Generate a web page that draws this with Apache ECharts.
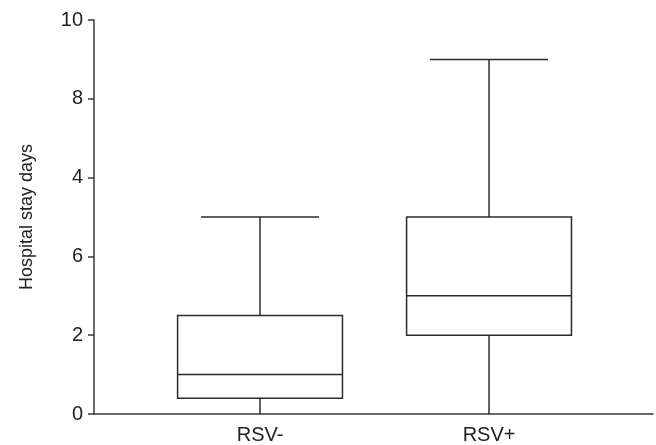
<!DOCTYPE html>
<html>
<head>
<meta charset="utf-8">
<script src="https://cdn.jsdelivr.net/npm/echarts@6/dist/echarts.min.js"></script>
<style>html,body{margin:0;padding:0;background:#fff;}#c{width:656px;height:445px;}</style>
</head>
<body>
<div id="c"></div>
<script>
// ---- data ----
const categories = ['RSV-', 'RSV+'];
const minVals    = [0, 0];
const q1Vals     = [0.4, 2];
const medianVals = [1, 3];
const q3Vals     = [2.5, 5];
const maxVals    = [5, 9];
const yTickLabels = ['0', '2', '6', '4', '8', '10'];
const yAxisTitle = 'Hospital stay days';

const seriesData = categories.map((c, i) => [i, minVals[i], q1Vals[i], medianVals[i], q3Vals[i], maxVals[i]]);

const stroke = '#2a2a2a';
const lw = 1.5;

function renderItem(params, api) {
  const x = api.value(0);
  const pMin = api.coord([x, api.value(1)]);
  const pQ1 = api.coord([x, api.value(2)]);
  const pMed = api.coord([x, api.value(3)]);
  const pQ3 = api.coord([x, api.value(4)]);
  const pMax = api.coord([x, api.value(5)]);
  const unit = api.size([1, 0])[0];
  const bw = unit * 0.72;
  const cw = unit * 0.515;
  const cx = pMed[0];
  const ls = { stroke: stroke, lineWidth: lw, fill: null };
  return {
    type: 'group',
    children: [
      { type: 'line', shape: { x1: cx, y1: pQ3[1], x2: cx, y2: pMax[1] }, style: ls },
      { type: 'line', shape: { x1: cx - cw / 2, y1: pMax[1], x2: cx + cw / 2, y2: pMax[1] }, style: ls },
      { type: 'line', shape: { x1: cx, y1: pQ1[1], x2: cx, y2: pMin[1] }, style: ls },
      { type: 'rect', shape: { x: cx - bw / 2, y: pQ3[1], width: bw, height: pQ1[1] - pQ3[1] },
        style: { fill: '#fff', stroke: stroke, lineWidth: lw } },
      { type: 'line', shape: { x1: cx - bw / 2, y1: pMed[1], x2: cx + bw / 2, y2: pMed[1] }, style: ls }
    ]
  };
}

const labelFont = 'Liberation Sans, Arial, sans-serif';

const chart = echarts.init(document.getElementById('c'), null, { renderer: 'canvas' });
chart.setOption({
  animation: false,
  backgroundColor: '#fff',
  grid: { left: 94, right: 3, top: 20, bottom: 31, containLabel: false },
  xAxis: {
    type: 'value',
    min: -0.725,
    max: 1.716,
    splitLine: { show: false },
    axisLine: { show: true, onZero: false, lineStyle: { color: '#3a3a3a', width: 1.5 } },
    axisTick: { show: false },
    axisLabel: {
      customValues: [0, 1],
      formatter: v => categories[Math.round(v)],
      color: '#222',
      fontSize: 20,
      fontFamily: labelFont,
      margin: 11
    }
  },
  yAxis: {
    type: 'value',
    min: 0,
    max: 10,
    interval: 2,
    name: yAxisTitle,
    nameLocation: 'middle',
    nameGap: 58,
    nameTextStyle: { color: '#222', fontSize: 18, fontFamily: labelFont },
    splitLine: { show: false },
    axisLine: { show: true, onZero: false, lineStyle: { color: '#3a3a3a', width: 1.5 } },
    axisTick: { show: true, length: 6, lineStyle: { color: '#3a3a3a', width: 1.5 } },
    axisLabel: {
      formatter: v => yTickLabels[Math.round(v / 2)],
      color: '#222',
      fontSize: 20,
      fontFamily: labelFont,
      margin: 11
    }
  },
  series: [{
    type: 'custom',
    renderItem: renderItem,
    encode: { x: 0, y: [1, 2, 3, 4, 5] },
    data: seriesData,
    clip: false
  }]
});
</script>
</body>
</html>
